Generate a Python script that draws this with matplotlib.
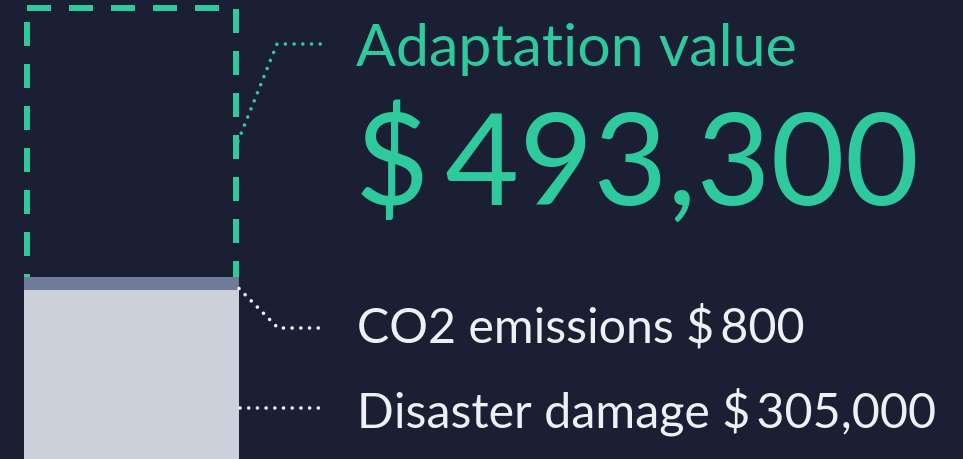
import matplotlib.pyplot as plt

# values shown in the chart
labels = ["Disaster damage", "CO2 emissions", "Adaptation value"]
values = [305000, 800, 493300]
value_texts = ["$\u2009305,000", "$\u2009800", "$\u2009493,300"]

W, H = 963, 459
BG = "#1b1f33"
GREEN = "#2ec99c"
GREY = "#cbd0db"
SLATE = "#6e7c99"
WHITE = "#eef0f5"
FONT = "Lato"

UNITS_PER_PX = 1810
MIN_STRIP_PX = 13
LW_PX = 6


def px(x, y):
    return x / W, 1 - y / H


disaster, co2, adapt = values

fig = plt.figure(figsize=(W / 100, H / 100), dpi=100, facecolor=BG)
ax = fig.add_axes([0, 0, 1, 1])
ax.set_facecolor(BG)
ax.axis("off")
ax.set_xlim(0, W)
ax.set_ylim(0, H * UNITS_PER_PX)

bar_x, bar_w = 131.5, 215
co2_vis = max(co2, MIN_STRIP_PX * UNITS_PER_PX)
ax.bar(bar_x, disaster, width=bar_w, color=GREY, linewidth=0, zorder=3)
ax.bar(bar_x, co2_vis, bottom=disaster, width=bar_w, color=SLATE, linewidth=0, zorder=3)

# dashed outline for adaptation value, stroke kept inside the box
base = disaster + co2_vis
top = base + adapt
half = LW_PX / 2
xl = bar_x - bar_w / 2 + half
xr = bar_x + bar_w / 2 - half
yt = top - half * UNITS_PER_PX
yb = base - half * UNITS_PER_PX
ax.plot([xl, xr, xr, xl, xl], [yt, yt, yb, yb, yt], color=GREEN,
        lw=LW_PX * 0.72, ls=(0, (4, 3)), dash_capstyle="butt", zorder=2)

# leader lines, in pixel coords
to_px = lambda yv: H - ax.transData.transform((0, yv))[1]
y_box_mid = to_px((base + top) / 2)
y_bar_top = to_px(disaster)
xe = bar_x + bar_w / 2
dot = dict(lw=2.6, ls=(0, (0.01, 2.4)), dash_capstyle="round", solid_capstyle="round")


def leader(xs, ys, color):
    fx = [x / W for x in xs]
    fy = [1 - y / H for y in ys]
    fig.add_artist(plt.Line2D(fx, fy, transform=fig.transFigure, color=color, **dot))


leader([xe - 1, 277, 326], [y_box_mid, 44, 44], GREEN)
leader([xe, 278, 326], [y_bar_top - 2, 328, 328], WHITE)
leader([xe + 1, 326], [408, 408], WHITE)

# texts
fig.text(*px(356, 66), labels[2], color=GREEN, fontsize=42.5, family=FONT, va="baseline")
fig.text(*px(355, 205), value_texts[2], color=GREEN, fontsize=92, family=FONT, va="baseline")
fig.text(*px(357, 343), f"{labels[1]} {value_texts[1]}", color=WHITE, fontsize=34.8,
         family=FONT, va="baseline")
fig.text(*px(357, 428), f"{labels[0]} {value_texts[0]}", color=WHITE, fontsize=34.8,
         family=FONT, va="baseline")

fig.savefig("out.png", dpi=100, facecolor=BG)
